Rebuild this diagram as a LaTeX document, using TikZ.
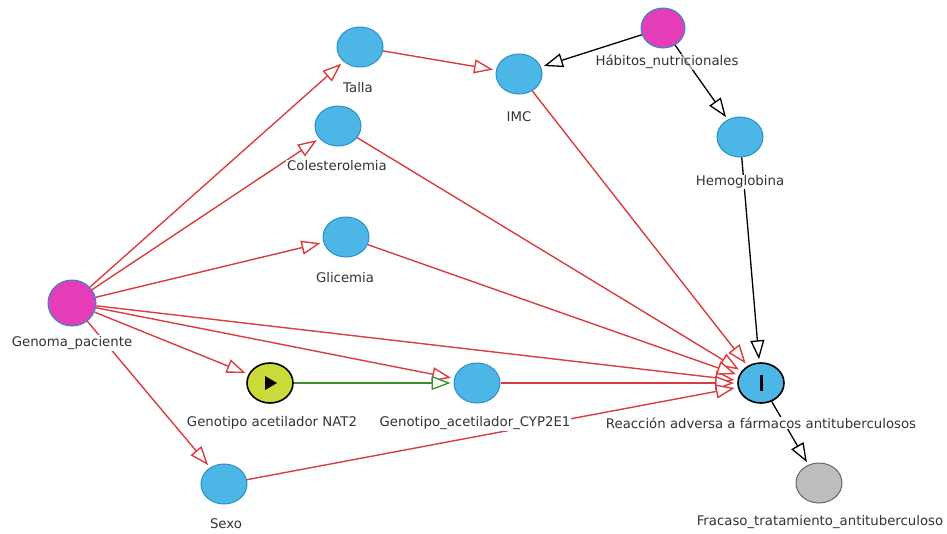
\documentclass[tikz,border=0pt]{standalone}
\usepackage{fontspec}
\setmainfont{DejaVu Sans}
\usetikzlibrary{arrows.meta,shapes.geometric}
\definecolor{nblue}{HTML}{4CB6E6}
\definecolor{nblueb}{HTML}{2A8FC8}
\definecolor{nmag}{HTML}{E53DB8}
\definecolor{nyel}{HTML}{C9DA3A}
\definecolor{ngray}{HTML}{BDBDBD}
\definecolor{ered}{HTML}{DA3C40}
\definecolor{egreen}{HTML}{3C8F2A}
\tikzset{
  var/.style={ellipse, minimum width=46pt, minimum height=40pt, inner sep=0pt, fill=nblue, draw=nblueb, line width=1pt},
  magvar/.style={var, fill=nmag, draw=nblueb},
  lab/.style={font=\fontsize{13.3}{15}\selectfont, text=black!80, inner sep=1pt},
  redarr/.style={draw=ered, line width=1.4pt, -{Triangle[open, length=19pt, width=14pt, fill=white]}, shorten >=3pt},
  blkarr/.style={draw=black, line width=1.3pt, -{Triangle[open, length=19pt, width=14pt, fill=white]}, shorten >=3pt},
  grnarr/.style={draw=egreen, line width=1.3pt, -{Triangle[open, length=19pt, width=14pt, fill=white]}, shorten >=3pt},
}
\begin{document}
\begin{tikzpicture}[x=1pt,y=-1pt]
\useasboundingbox (0,0) rectangle (947,533);
% nodes
\node[magvar, minimum width=48pt, minimum height=46pt] (gen) at (72,303) {};
\node[var] (talla) at (360,47) {};
\node[var] (col) at (338,126) {};
\node[var] (gli) at (346,237) {};
\node[var] (imc) at (519,74) {};
\node[magvar, minimum width=44pt, minimum height=40pt] (hab) at (663,28) {};
\node[var] (hem) at (740,137) {};
\node[var, fill=nyel, draw=black, line width=1.6pt] (nat) at (270,383) {};
\node[var] (cyp) at (477,383) {};
\node[var] (sexo) at (224,484) {};
\node[var, draw=black, line width=1.6pt] (rea) at (761,383) {};
\node[var, fill=ngray, draw=black!60] (fra) at (819,483) {};
% symbols
\fill[black] (265,376) -- (265,390) -- (277,383) -- cycle;
\fill[black] (759.5,375) rectangle (762.5,391);
% edges
\draw[redarr] (gen) -- (talla);
\draw[redarr] (gen) -- (col);
\draw[redarr] (gen) -- (gli);
\draw[redarr] (gen) -- (rea);
\draw[redarr] (gen) -- (cyp);
\draw[redarr] (gen) -- (nat);
\draw[redarr] (gen) -- (sexo);
\draw[redarr] (talla) -- (imc);
\draw[redarr] (imc) -- (rea);
\draw[redarr] (col) -- (rea);
\draw[redarr] (gli) -- (rea);
\draw[redarr] (cyp) -- (rea);
\draw[redarr] (sexo) -- (rea);
\draw[grnarr] (nat) -- (cyp);
\draw[blkarr] (hab) -- (imc);
\draw[blkarr] (hab) -- (hem);
\draw[blkarr] (hem) -- (rea);
\draw[blkarr] (rea) -- (fra);
% labels
\node[lab, fill=white] (genl) at (72,343) {Genoma\_paciente};
\node[lab, fill=white] (tallal) at (358,88) {Talla};
\node[lab, fill=white] (coll) at (337,166) {Colesterolemia};
\node[lab, fill=white] (glil) at (345,278) {Glicemia};
\node[lab, fill=white] (imcl) at (519,117) {IMC};
\node[lab, fill=white] (heml) at (740,182) {Hemoglobina};
\node[lab, fill=white] (natl) at (272,423) {Genotipo acetilador NAT2};
\node[lab, fill=white] (cypl) at (475,423) {Genotipo\_acetilador\_CYP2E1};
\node[lab] (sexol) at (226,524) {Sexo};
\node[lab, fill=white] (real) at (761,423) {Reacción adversa a fármacos antituberculosos};
\node[lab] (fral) at (820,522) {Fracaso\_tratamiento\_antituberculoso};
\node[lab, fill=white, fill opacity=0.6, text opacity=1] (habl) at (667,62) {Hábitos\_nutricionales};
\end{tikzpicture}
\end{document}
